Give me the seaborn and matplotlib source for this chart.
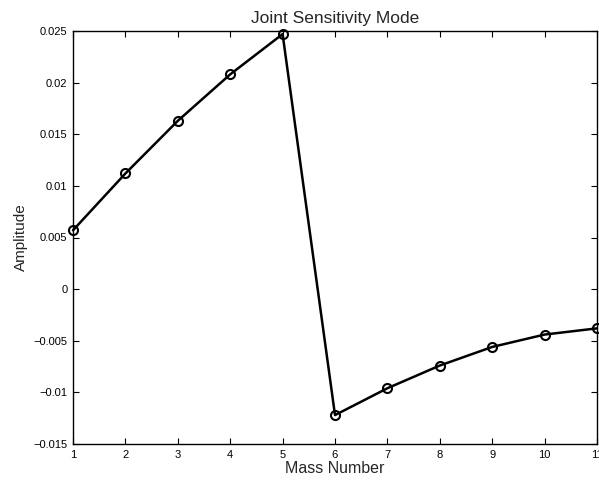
import matplotlib
matplotlib.use("Agg")
import matplotlib.pyplot as plt
import seaborn as sns
import pandas as pd

mass_number = [1, 2, 3, 4, 5, 6, 7, 8, 9, 10, 11]
amplitude = [0.0057, 0.0112, 0.0163, 0.0208, 0.0247, -0.0122, -0.0096,
             -0.0074, -0.0056, -0.0044, -0.0038]
x_ticks = [1, 2, 3, 4, 5, 6, 7, 8, 9, 10, 11]
y_ticks = [-0.015, -0.01, -0.005, 0, 0.005, 0.01, 0.015, 0.02, 0.025]
y_tick_labels = ["\u22120.015", "\u22120.01", "\u22120.005", "0", "0.005",
                 "0.01", "0.015", "0.02", "0.025"]

df = pd.DataFrame({"Mass Number": mass_number, "Amplitude": amplitude})

sns.set_theme(style="ticks")
plt.rcParams["font.family"] = ["Liberation Sans", "DejaVu Sans"]

fig = plt.figure(figsize=(5.99, 4.83), dpi=100)
ax = fig.add_axes([73 / 599, 39 / 483, 524 / 599, 413 / 483])

sns.lineplot(data=df, x="Mass Number", y="Amplitude", ax=ax, color="black",
             linewidth=1.8, marker="o", markersize=6.5, markerfacecolor="none",
             markeredgecolor="black", markeredgewidth=1.5, clip_on=False)

ax.set_xlim(1, 11)
ax.set_ylim(-0.015, 0.025)
ax.set_xticks(x_ticks)
ax.set_xticklabels([str(t) for t in x_ticks])
ax.set_yticks(y_ticks)
ax.set_yticklabels(y_tick_labels)
ax.tick_params(direction="in", length=4, width=0.8, labelsize=8, colors="black",
               top=True, right=True, pad=4)
for s in ax.spines.values():
    s.set_visible(True)
    s.set_linewidth(1.0)
    s.set_color("black")

ax.set_xlabel("Mass Number", fontsize=11.5, labelpad=1)
ax.set_ylabel("Amplitude", fontsize=11, labelpad=4)
ax.set_title("Joint Sensitivity Mode", fontsize=12.5, pad=6)

fig.savefig("out.png", dpi=100)
